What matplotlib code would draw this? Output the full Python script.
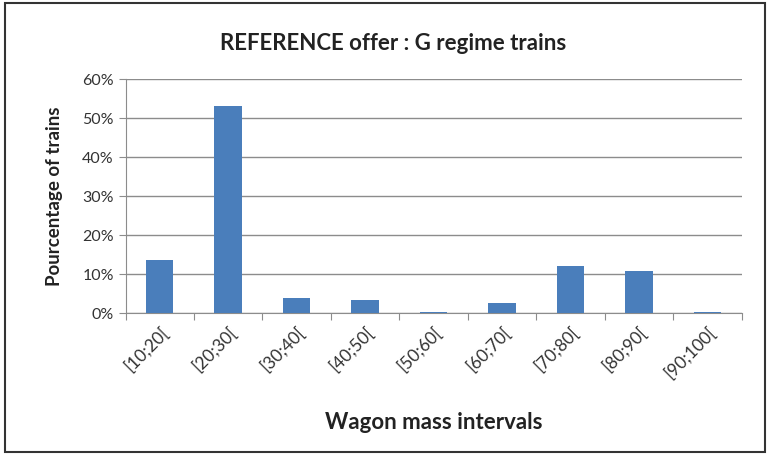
import matplotlib.pyplot as plt
from matplotlib.patches import Rectangle
from matplotlib.ticker import PercentFormatter

intervals = ['[10;20[', '[20;30[', '[30;40[', '[40;50[', '[50;60[',
             '[60;70[', '[70;80[', '[80;90[', '[90;100[']
share = [13.5, 53.2, 3.8, 3.4, 0.3, 2.6, 12.1, 10.8, 0.3]

plt.rcParams['font.family'] = ['Lato', 'DejaVu Sans']

fig = plt.figure(figsize=(7.7, 4.55), dpi=100)
ax = fig.add_axes([0.163, 0.312, 0.80, 0.514])

x = range(len(intervals))
ax.bar(x, share, width=0.4, color='#4a7ebb', zorder=3)

ax.set_xlim(-0.5, len(intervals) - 0.5)
ax.set_ylim(0, 60)
ax.set_yticks(range(0, 61, 10))
ax.yaxis.set_major_formatter(PercentFormatter(decimals=0))
ax.grid(axis='y', color='#8c8c8c', linewidth=1, zorder=0)

# ticks sit between the categories, labels under the bars
ax.set_xticks([i + 0.5 for i in range(-1, len(intervals))])
ax.set_xticklabels([])
ax.set_xticks(list(x), minor=True)
ax.set_xticklabels(intervals, minor=True, rotation=45, ha='right',
                   rotation_mode='anchor', fontsize=12.5, color='#333333')
ax.tick_params(axis='x', which='minor', length=0, pad=8)
ax.tick_params(axis='x', which='major', length=5, color='#8c8c8c')
ax.tick_params(axis='y', length=5, color='#8c8c8c', labelsize=11.5,
               labelcolor='#333333')

for side in ['top', 'right']:
    ax.spines[side].set_visible(False)
for side in ['left', 'bottom']:
    ax.spines[side].set_color('#8c8c8c')

ax.set_ylabel('Pourcentage of trains', fontsize=13.5, fontweight='bold',
              labelpad=14, color='#222222')
ax.set_xlabel('Wagon mass intervals', fontsize=16, fontweight='bold',
              labelpad=22, color='#222222')
fig.text(0.51, 0.905, 'REFERENCE offer : G regime trains', ha='center',
         va='center', fontsize=16, fontweight='bold', color='#222222')

fig.patches.append(Rectangle((0.006, 0.006), 0.988, 0.988,
                             transform=fig.transFigure, fill=False,
                             edgecolor='#333333', linewidth=1.5))

fig.savefig('out.png', dpi=100)
